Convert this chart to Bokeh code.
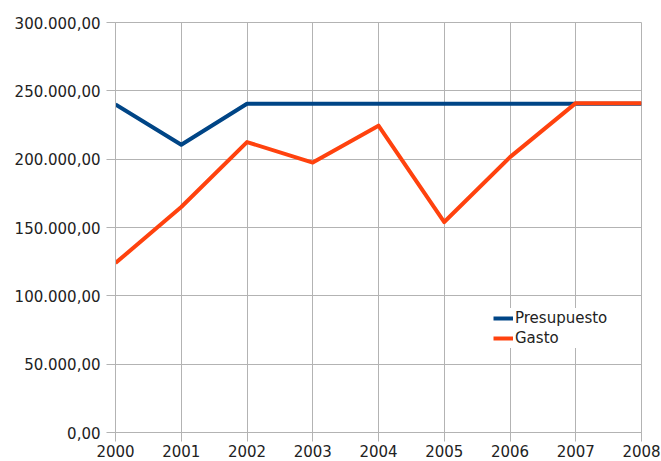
from bokeh.plotting import figure
from bokeh.models import CustomJSTickFormatter, FixedTicker, Range1d, Legend, LegendItem
from bokeh.embed import file_html
from bokeh.resources import INLINE

years = [2000, 2001, 2002, 2003, 2004, 2005, 2006, 2007, 2008]
presupuesto = [240000, 210500, 240500, 240500, 240500, 240500, 240500, 240500, 240500]
gasto = [124000, 165000, 212500, 197500, 224500, 154000, 201500, 241000, 241000]
y_ticks = [0, 50000, 100000, 150000, 200000, 250000, 300000]

FONT = "DejaVu Sans"
GRID = "#b3b3b3"
TXT = "#222222"

p = figure(width=661, height=461, output_backend="svg", toolbar_location=None,
           x_range=Range1d(2000, 2008), y_range=Range1d(0, 300000),
           min_border_left=115, min_border_right=20, min_border_top=22, min_border_bottom=29)
p.background_fill_color = "white"
p.border_fill_color = "white"
p.outline_line_color = GRID

l1 = p.line(years, presupuesto, line_color="#004586", line_width=4, line_join="round")
l2 = p.line(years, gasto, line_color="#ff420e", line_width=4, line_join="round")

p.xaxis.ticker = FixedTicker(ticks=years)
p.yaxis.ticker = FixedTicker(ticks=y_ticks)
p.yaxis.formatter = CustomJSTickFormatter(code="""
var s = tick.toFixed(2).split('.');
s[0] = s[0].replace(/\\B(?=(\\d{3})+(?!\\d))/g, '.');
return s[0] + ',' + s[1];
""")

for ax in (p.xaxis[0], p.yaxis[0]):
    ax.axis_line_color = GRID
    ax.major_tick_line_color = GRID
    ax.minor_tick_line_color = None
    ax.major_tick_in = 0
    ax.major_label_text_font = FONT
    ax.major_label_text_font_size = "15px"
    ax.major_label_text_color = TXT
p.yaxis.major_tick_out = 9
p.yaxis.major_label_standoff = 6
p.xaxis.major_tick_out = 9
p.xaxis.major_label_standoff = 3

p.xgrid.grid_line_color = GRID
p.ygrid.grid_line_color = GRID

legend = Legend(items=[LegendItem(label="Presupuesto", renderers=[l1]),
                       LegendItem(label="Gasto", renderers=[l2])],
                location=(378, 84), padding=0, margin=0, spacing=0,
                glyph_width=20, glyph_height=20, label_height=20, label_standoff=2,
                label_text_font=FONT, label_text_font_size="15px", label_text_color=TXT,
                border_line_color=None, background_fill_color="white", background_fill_alpha=1)
p.add_layout(legend)

open("out.html", "w").write(file_html(p, INLINE))
